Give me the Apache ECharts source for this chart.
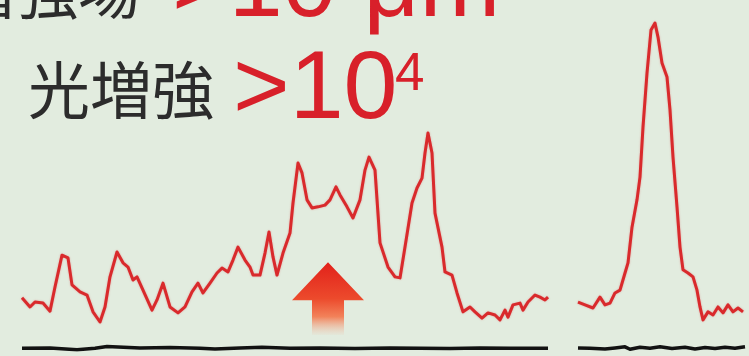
<!DOCTYPE html>
<html>
<head>
<meta charset="utf-8">
<script src="https://cdn.jsdelivr.net/npm/echarts@6/dist/echarts.min.js"></script>
<style>
  html, body { margin: 0; padding: 0; background: #e2ecdf; }
  #chart { width: 749px; height: 356px; }
</style>
</head>
<body>
<div id="chart"></div>
<script>
// Spectrum with a gap-mode enhanced band (left) and the reference band (right).
// x: shift position, y: intensity (arbitrary units, 0-100)

const shiftLeft = [22, 30, 35, 43, 50, 55, 62, 68, 72, 80, 87, 93, 100, 105, 110, 117, 123, 128, 133, 137,
  143, 152, 157, 163, 170, 178, 185, 192, 198, 203, 210, 217, 222, 228, 233, 238, 245, 250, 253, 260,
  265, 269, 273, 277, 283, 290, 293, 298, 302, 307, 312, 318, 325, 330, 336, 340, 347, 353, 360, 365,
  369, 375, 380, 388, 395, 400, 405, 412, 417, 422, 425, 428, 432, 435, 442, 445, 452, 457, 463, 470,
  475, 482, 488, 495, 500, 505, 508, 513, 520, 523, 528, 535, 540, 545, 548];
const signalLeft = [14.9, 12.3, 13.7, 13.4, 11.1, 18.0, 27.1, 26.3, 18.6, 16.6, 15.7, 10.9, 8.0, 12.3, 20.9, 28.0, 24.9, 23.7, 20.0, 20.9,
  17.1, 11.4, 14.3, 19.1, 12.3, 10.6, 12.3, 16.6, 19.1, 16.3, 19.1, 22.0, 23.4, 22.3, 25.7, 29.4, 25.7, 23.7, 21.4, 21.4,
  27.7, 33.7, 26.6, 21.4, 27.7, 33.4, 42.0, 53.4, 50.6, 42.9, 40.6, 40.9, 41.4, 42.9, 46.6, 44.3, 40.9, 37.7, 42.9, 51.4,
  55.1, 51.4, 30.6, 23.7, 20.9, 20.6, 29.4, 42.0, 46.3, 49.1, 56.3, 62.0, 56.3, 39.1, 29.4, 22.3, 21.4, 16.3, 10.9, 12.3,
  10.9, 9.1, 10.6, 10.0, 8.6, 11.4, 9.4, 12.9, 13.4, 11.4, 13.7, 15.7, 15.1, 14.3, 15.1];

const shiftRight = [578, 585, 593, 600, 605, 610, 615, 620, 625, 628, 632, 637, 640, 643, 647, 651, 655, 658, 662, 667,
  670, 673, 677, 680, 683, 688, 693, 697, 700, 703, 708, 713, 718, 723, 728, 733, 738, 743];
const signalRight = [13.7, 12.9, 12.0, 15.1, 12.9, 13.4, 16.3, 17.1, 22.0, 24.9, 35.1, 42.9, 49.4, 63.7, 79.1, 91.4, 93.4, 89.4, 82.0, 78.0,
  68.6, 55.1, 40.9, 29.4, 22.9, 22.0, 20.9, 17.1, 12.3, 8.6, 10.9, 10.0, 12.3, 10.6, 12.9, 10.9, 12.0, 10.9];

// Baseline traces (without enhancement)
const shiftBaseLeft = [22, 50, 77, 95, 107, 140, 170, 200, 215, 240, 262, 290, 320, 355, 390, 420, 450, 480, 510, 548];
const signalBaseLeft = [0.5, 0.6, 0.1, 0.5, 1.0, 0.6, 0.7, 0.5, 0.3, 0.6, 0.8, 0.5, 0.6, 0.4, 0.6, 0.5, 0.4, 0.6, 0.5, 0.5];
const shiftBaseRight = [578, 590, 605, 615, 625, 630, 640, 650, 660, 672, 685, 695, 705, 715, 725, 735, 745];
const signalBaseRight = [0.6, 0.5, 0.3, 0.6, 0.9, 0.2, 0.8, 0.5, 0.9, 0.4, 0.8, 0.3, 0.7, 0.4, 0.8, 0.5, 0.9];

// Annotation text
const rowTopLabel = '増強場';
const rowTopValue = '>10 μm';
const rowLabel = '光増強';
const rowValue = '>10';
const rowExponent = '4';

// Arrow marking the enhanced band
const arrowShift = 328;
const arrowTip = 25.1;
const arrowBase = 4.3;

const zip = (xs, ys) => xs.map((x, i) => [x, ys[i]]);

const RED = '#d8202a';
const INK = '#2c2c2c';

const chart = echarts.init(document.getElementById('chart'), null, { renderer: 'canvas' });

const redLine = {
  color: '#d92a2c',
  width: 3,
  join: 'round',
  shadowColor: 'rgba(216,32,42,0.35)',
  shadowBlur: 2
};
const blackLine = { color: '#121212', width: 3.5, join: 'round' };

chart.setOption({
  backgroundColor: '#e2ecdf',
  animation: false,
  grid: { left: 0, right: 0, top: 0, height: 350 },
  xAxis: { type: 'value', min: 0, max: 749, show: false },
  yAxis: { type: 'value', min: 0, max: 100, show: false },
  series: [
    { type: 'line', data: zip(shiftBaseLeft, signalBaseLeft), showSymbol: false, lineStyle: blackLine, z: 2 },
    { type: 'line', data: zip(shiftBaseRight, signalBaseRight), showSymbol: false, lineStyle: blackLine, z: 2 },
    { type: 'line', data: zip(shiftLeft, signalLeft), showSymbol: false, lineStyle: redLine, z: 3 },
    { type: 'line', data: zip(shiftRight, signalRight), showSymbol: false, lineStyle: redLine, z: 3 }
  ]
});

const tip = chart.convertToPixel({ gridIndex: 0 }, [arrowShift, arrowTip]);
const base = chart.convertToPixel({ gridIndex: 0 }, [arrowShift, arrowBase]);
const cx = tip[0], ty = tip[1], by = base[1];
const headH = 38, headHalf = 36, shaftHalf = 16;

chart.setOption({
  graphic: [
    {
      type: 'polygon',
      shape: {
        points: [
          [cx, ty], [cx + headHalf, ty + headH], [cx + shaftHalf, ty + headH],
          [cx + shaftHalf, by], [cx - shaftHalf, by], [cx - shaftHalf, ty + headH],
          [cx - headHalf, ty + headH]
        ]
      },
      style: {
        fill: new echarts.graphic.LinearGradient(0, ty, 0, by, [
          { offset: 0, color: '#e2211b' },
          { offset: 0.5, color: '#ec4a2c' },
          { offset: 0.75, color: '#f2825a' },
          { offset: 1, color: 'rgba(240,190,165,0.1)' }
        ], true)
      },
      z: 5
    },
    {
      type: 'text', x: 140, y: -10,
      style: { text: rowTopLabel, font: '400 62px "Noto Sans CJK JP"', fill: INK, align: 'right', verticalAlign: 'middle' }
    },
    {
      type: 'text', x: 172, y: -11,
      style: { text: rowTopValue, font: '400 97px "Liberation Sans"', fill: RED, align: 'left', verticalAlign: 'middle' }
    },
    {
      type: 'text', x: 28, y: 90,
      style: { text: rowLabel, font: '400 62px "Noto Sans CJK JP"', fill: INK, align: 'left', verticalAlign: 'middle' }
    },
    {
      type: 'text', x: 233, y: 91,
      style: { text: rowValue, font: '400 97px "Liberation Sans"', fill: RED, align: 'left', verticalAlign: 'middle' }
    },
    {
      type: 'text', x: 395, y: 75,
      style: { text: rowExponent, font: '400 53px "Liberation Sans"', fill: RED, align: 'left', verticalAlign: 'middle' }
    }
  ]
});
</script>
</body>
</html>
